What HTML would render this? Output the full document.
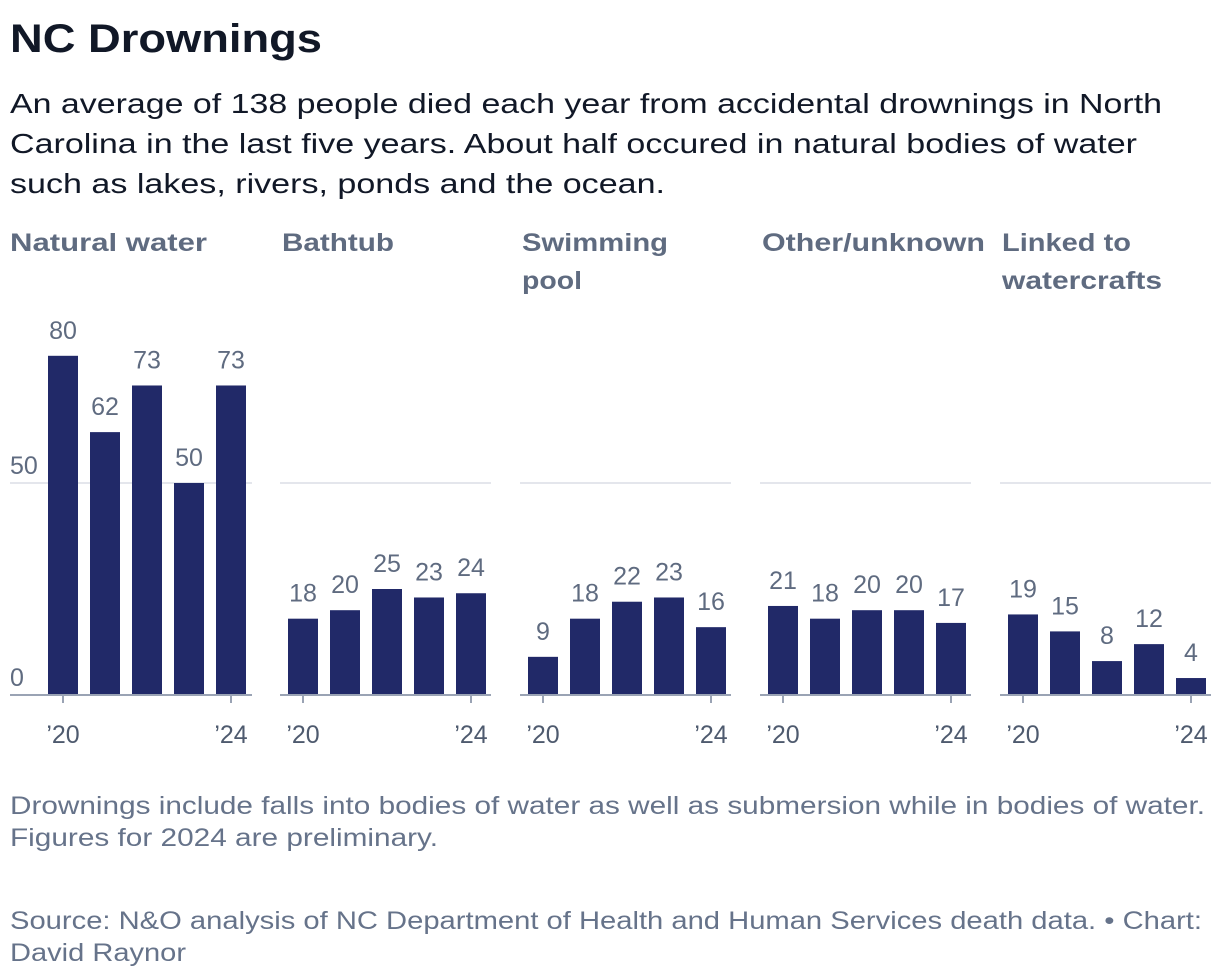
<!DOCTYPE html>
<html><head><meta charset="utf-8"><style>
html,body{margin:0;padding:0;background:#fff;}
svg{display:block;font-family:"Liberation Sans",sans-serif;}
</style></head><body>
<svg id="chart" width="1220" height="978" viewBox="0 0 1220 978">
<text x="10" y="52" font-size="40" font-weight="bold" fill="#111827" textLength="312" lengthAdjust="spacingAndGlyphs">NC Drownings</text>
<g fill="#111827" font-size="28">
<text x="10" y="113" textLength="1152" lengthAdjust="spacingAndGlyphs">An average of 138 people died each year from accidental drownings in North</text>
<text x="10" y="153" textLength="1127" lengthAdjust="spacingAndGlyphs">Carolina in the last five years. About half occured in natural bodies of water</text>
<text x="10" y="193" textLength="655" lengthAdjust="spacingAndGlyphs">such as lakes, rivers, ponds and the ocean.</text>
</g>
<g id="panels"></g>
<g fill="#66738a" font-size="25">
<text x="10" y="814" textLength="1195" lengthAdjust="spacingAndGlyphs">Drownings include falls into bodies of water as well as submersion while in bodies of water.</text>
<text x="10" y="846" textLength="428" lengthAdjust="spacingAndGlyphs">Figures for 2024 are preliminary.</text>
</g>
<g fill="#66738a" font-size="25">
<text x="10" y="929" textLength="1192" lengthAdjust="spacingAndGlyphs">Source: N&amp;O analysis of NC Department of Health and Human Services death data. • Chart:</text>
<text x="10" y="961" textLength="176" lengthAdjust="spacingAndGlyphs">David Raynor</text>
</g>
</svg>
<script>
const categories = ["Natural water","Bathtub","Swimming pool","Other/unknown","Linked to watercrafts"];
const years = ["2020","2021","2022","2023","2024"];
const naturalWater = [80,62,73,50,73];
const bathtub = [18,20,25,23,24];
const swimmingPool = [9,18,22,23,16];
const otherUnknown = [21,18,20,20,17];
const watercrafts = [19,15,8,12,4];
const yTicks = [0,50];
const yTickLabels = ["0","50"];
const xTickLabels = ["’20","’24"];

const series = [naturalWater,bathtub,swimmingPool,otherUnknown,watercrafts];
const headerLines = [["Natural water"],["Bathtub"],["Swimming","pool"],["Other/unknown"],["Linked to","watercrafts"]];
const headerWidths = [[197],[112],[146,60],[223],[129,160]];
const NS = "http://www.w3.org/2000/svg";
const root = document.getElementById("panels");
const baseY = 695, pxPerUnit = 212/50;
function yScale(v){ return baseY - v*pxPerUnit; }
function mk(tag, attrs, parent){ const e=document.createElementNS(NS,tag); for(const k in attrs) e.setAttribute(k,attrs[k]); parent.appendChild(e); return e; }

series.forEach((vals, p) => {
  const g = mk("g", {}, root);
  
  
  const left = p === 0 ? 10 : 280 + (p-1)*240;
  const right = p === 0 ? 252 : left + 211;
  const barStart = p === 0 ? 48 : left + 8;
  const hx = p === 0 ? 10 : left + 2;
  headerLines[p].forEach((ln, i) => {
    const t = mk("text", {x:hx, y:251 + i*38, "font-size":25, "font-weight":"bold", fill:"#5f6b80", textLength:headerWidths[p][i], lengthAdjust:"spacingAndGlyphs"}, g);
    t.textContent = ln;
    
    
  });
  yTicks.forEach((tv, i) => {
    if (tv > 0) {
      const gl = mk("line", {x1:left, x2:right, y1:yScale(tv), y2:yScale(tv), stroke:"#c9ced8", "stroke-width":1}, g);
      
      
    }
    if (p === 0) {
      const lt = mk("text", {x:10, y:yScale(tv) - 9, "font-size":25, fill:"#5f6b80"}, g);
      lt.textContent = yTickLabels[i];
      
      
    }
  });
  vals.forEach((v, i) => {
    const x = barStart + i*42;
    const r = mk("rect", {x:x, y:yScale(v), width:30, height:baseY - yScale(v), fill:"#212968"}, g);
    
    
    const t = mk("text", {x:x+15, y:yScale(v) - 17, "font-size":25, fill:"#5f6b80", "text-anchor":"middle"}, g);
    t.textContent = v;
    
    
  });
  const ax = mk("line", {x1:left, x2:right, y1:baseY, y2:baseY, stroke:"#9aa3b4", "stroke-width":2}, g);
  
  
  [0, 4].forEach((idx, k) => {
    const cx = barStart + idx*42 + 15;
    const tk = mk("line", {x1:cx, x2:cx, y1:baseY, y2:baseY+8, stroke:"#9aa3b4", "stroke-width":2}, g);
    
    
    const lt = mk("text", {x:cx, y:743, "font-size":25, fill:"#4e5a6e", "text-anchor":"middle"}, g);
    lt.textContent = xTickLabels[k];
    
    
  });
});
</script>
</body></html>
